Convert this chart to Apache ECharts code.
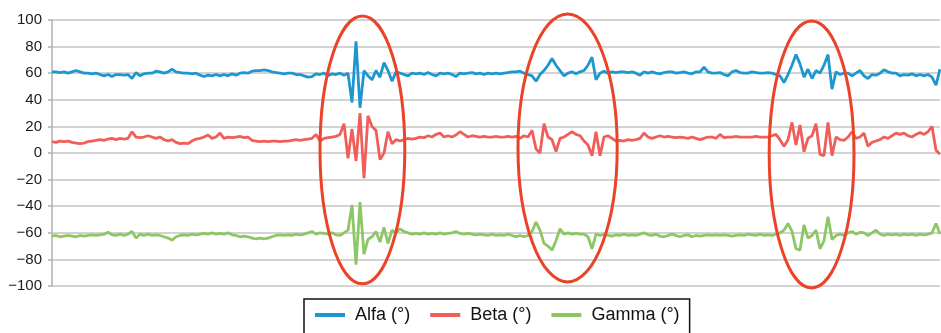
<!DOCTYPE html>
<html>
<head>
<meta charset="utf-8">
<script src="https://cdn.jsdelivr.net/npm/echarts@6/dist/echarts.min.js"></script>
<style>
html,body{margin:0;padding:0;background:#fff;}
#chart{width:941px;height:333px;}
</style>
</head>
<body>
<div id="chart"></div>
<script>
// ---- data ----
const seriesNames = ['Alfa (°)', 'Beta (°)', 'Gamma (°)'];
const yTicks = [-100, -80, -60, -40, -20, 0, 20, 40, 60, 80, 100];

const alfa = [
61,61,60.5,61,60,61,62,61,60,60,59.5,60,59,58,59,57.5,59,59,58.5,59,
56,60.5,58,59.5,60,60,61.5,61,60,61,63,61,60.5,60,60,59.5,60,58.5,57.5,58.5,
58,59,58,59,58,59.5,58.5,60,60.5,60,61.5,62,62,62.5,62,61,60.5,60,59.5,60,
60,59,59,58,57,57.5,59.5,59,60,58,59.5,59,60,58.5,60,38,84,34,62,58,
55,62,57,68,62,54,61,60,59,58,60,59.5,60,59,60.5,59,58,60,59.5,60,
59,57.5,60,59.5,60,60.5,59.5,60,59,60,59.5,60,59.5,60,60.5,61,61,61.5,60,59,
58,54,59,62,66,71,66,62,58,60,61,59.5,61,62,66,72,55,60,61.5,60,
61,60.5,61,61,60.5,61,60,58.5,61,60,61,60,59.5,60.5,61,61,60,60.5,61,60,
59.5,61,61,64.5,61,60,60,60.5,59,58,61,62,60.5,60,60,61,60.5,60,60,60.5,
60,59,58,53,59,66,74,67,57,63,56,62,60,66,74,48,61,59,60,60,
58,60,62,58,56,59,58.5,60,62.5,61,60,60,58,59,58.5,59.5,58,59,58,59,
57,51,63
];

const beta = [
8.5,8,9,8.5,9,8,7.5,7,7.5,8.5,9,9.5,10,9.5,10.5,11,10,11,10.5,11,
16,12,11.5,12,13,12,11,12,10,9,10,8,7,7.5,7,9,10.5,11,12,13.5,
11,12,15,11,12,11.5,12,12.5,11.5,12,9.5,9,8.5,9,8.5,9,9,8.5,9,9,
9.5,10,9.5,10,10.5,11,14,9,11,11.5,12,12.5,14,22,-4,18,-6,30,-19,28,
20,17,-5,0,16,7,10,9,10,11,10.5,11,12,11.5,13,12,14,15,12,13,
12,13.5,16,14,12,13,12.5,12,12.5,12,12,12.5,12,12,12.5,12,12.5,11,13,12,
17,3,0,22,12,10,1,11,12,14,16,14,13,9,6,-2,16,-2,12,13,
11,9,9.5,9,10,9.5,10,11,15,12,11,12,13,12,12.5,12,11.5,12,11.5,11,
12,11,10,11,12,12,11,14,11.5,12,12,12.5,12,12,12,12,12.5,12,12,12,
13,14,10,5,10,23,6,21,1,11,13,22,-1,-2,23,-2,12,10,9.5,12,
16,11,12,15,5,8,9,10,12,11,13,15,14,15,13,12,14,15.5,14,16,
20,2,-1
];

const gamma = [
-62.5,-62,-63,-62.5,-62,-62.5,-63,-62,-62.5,-62,-61.5,-62,-61.5,-61,-59.5,-61.5,-62,-61,-62,-61,
-59,-64,-61,-62,-61,-62,-61.5,-62,-63,-64,-65.5,-63,-62,-61.5,-62,-61,-61.5,-61,-60.5,-61,
-60,-61,-60.5,-61,-60,-61.5,-62,-63,-62.5,-63,-64,-64.5,-64,-64.5,-64,-63,-62,-61.5,-62,-61.5,
-62,-61,-61.5,-61,-60,-59,-61,-60,-60.5,-61,-60,-61.5,-62,-60,-58,-39,-84,-37,-76,-65,
-63,-59,-67,-56,-68,-58,-60,-57,-59,-60,-61,-60.5,-61,-60,-61,-60.5,-61,-60,-61,-60.5,
-60,-59,-60.5,-61,-60.5,-61,-61.5,-61,-61.5,-62,-61,-62,-61.5,-62,-61,-62,-63,-62,-63,-62,
-59,-52,-58,-68,-70,-73,-66,-57,-61,-60,-61,-60.5,-61,-61,-63,-72,-61,-62,-61,-62,
-62.5,-61.5,-62,-61,-62,-61.5,-62,-61,-60,-61.5,-62,-61,-62.5,-63,-62,-61,-62,-63,-62,-61.5,
-63,-62,-62.5,-62,-61.5,-62,-61.5,-62,-61.5,-62,-62.5,-62,-61.5,-62,-61,-61.5,-62,-61,-62,-61.5,
-62,-61,-60,-58,-53,-59,-72,-73,-54,-64,-62,-58,-72,-66,-48,-65,-62,-61,-62,-60,
-59,-61,-59.5,-60,-62,-60,-58,-61,-62,-61,-61.5,-61,-62,-61,-61.5,-61,-62,-61,-61.5,-61,
-60,-53,-61
];

// highlighted regions (data units): [centre sample index, centre value, half-width in samples, half-height in value]
const highlightRegions = [
  [77.6, 2.3, 10.6, 100.7],
  [128.9, 3.8, 12.4, 100.7],
  [189.9, -1.1, 10.6, 100.4]
];

const samples = alfa.map((_, i) => String(i));

const chart = echarts.init(document.getElementById('chart'), null, {renderer: 'canvas'});
const FONT = '"Liberation Sans", Arial, Helvetica, sans-serif';

const option = {
  animation: false,
  backgroundColor: '#ffffff',
  grid: {left: 52, right: 1, top: 20, bottom: 47, containLabel: false},
  legend: {
    data: seriesNames,
    left: 304,
    top: 299,
    orient: 'horizontal',
    icon: 'rect',
    itemWidth: 30,
    itemHeight: 4,
    itemGap: 20,
    padding: [7, 10, 20, 11],
    borderColor: '#111',
    borderWidth: 1.5,
    borderRadius: 0,
    backgroundColor: '#ffffff',
    textStyle: {fontFamily: FONT, fontSize: 18, color: '#111', padding: [0, 0, 0, 5]}
  },
  xAxis: {
    type: 'category',
    data: samples,
    boundaryGap: false,
    axisLine: {show: false},
    axisTick: {show: false},
    axisLabel: {show: false},
    splitLine: {show: false}
  },
  yAxis: {
    type: 'value',
    min: -100,
    max: 100,
    interval: 20,
    axisLine: {show: true, lineStyle: {color: '#b0b0b0', width: 1.5}},
    axisTick: {show: true, length: 4, lineStyle: {color: '#b0b0b0', width: 1.5}},
    axisLabel: {
      fontFamily: FONT, fontSize: 15, color: '#1a1a1a', margin: 10,
      formatter: v => (yTicks.includes(v) ? String(v).replace('-', '\u2212') : '')
    },
    splitLine: {show: true, lineStyle: {color: '#c4c4c4', width: 1.5}}
  },
  series: [
    {name: seriesNames[0], type: 'line', data: alfa, symbol: 'none', lineStyle: {color: '#1e97d0', width: 2.8}, itemStyle: {color: '#1e97d0'}, z: 3},
    {name: seriesNames[1], type: 'line', data: beta, symbol: 'none', lineStyle: {color: '#ef5e59', width: 2.8}, itemStyle: {color: '#ef5e59'}, z: 3},
    {name: seriesNames[2], type: 'line', data: gamma, symbol: 'none', lineStyle: {color: '#8cc665', width: 2.8}, itemStyle: {color: '#8cc665'}, z: 3}
  ]
};
chart.setOption(option);

// draw the highlight ellipses using the chart's own scales
const pA = chart.convertToPixel({gridIndex: 0}, [0, 0]);
const pB = chart.convertToPixel({gridIndex: 0}, [alfa.length - 1, 100]);
const pxPerIdx = (pB[0] - pA[0]) / (alfa.length - 1);
const pxPerVal = (pA[1] - pB[1]) / 100;
chart.setOption({
  graphic: highlightRegions.map(r => ({
    type: 'ellipse',
    z: 100,
    silent: true,
    shape: {
      cx: pA[0] + r[0] * pxPerIdx,
      cy: pA[1] - r[1] * pxPerVal,
      rx: r[2] * pxPerIdx,
      ry: r[3] * pxPerVal
    },
    style: {fill: 'none', stroke: '#ea4328', lineWidth: 3}
  }))
});
</script>
</body>
</html>
